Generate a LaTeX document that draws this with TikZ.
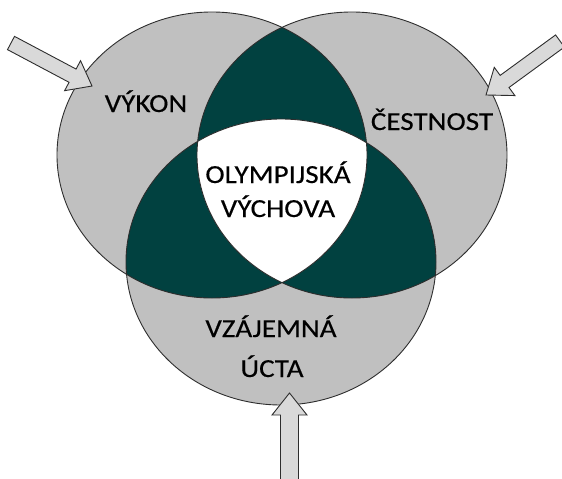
\documentclass[tikz,border=0pt]{standalone}
\usepackage{fontspec}
\newfontfamily\lblfont[FakeStretch=1.12,FakeBold=0.35]{Carlito}
\usetikzlibrary{calc}
\definecolor{ringgray}{RGB}{192,192,192}
\definecolor{darkteal}{RGB}{1,65,64}
\definecolor{arrowfill}{RGB}{217,217,217}
\definecolor{edgegray}{RGB}{45,45,45}
\newcommand\blockarr[6]{% name, tail, tip, shaft half width, head half width, head length
  \coordinate (#1hb) at ($(#3)!#6!(#2)$);
  \draw[blockarrowstyle] (#3) -- ($(#1hb)!#5!90:(#3)$) -- ($(#1hb)!#4!90:(#3)$)
    -- ($(#2)!#4!90:(#3)$) -- ($(#2)!#4!-90:(#3)$) -- ($(#1hb)!#4!-90:(#3)$)
    -- ($(#1hb)!#5!-90:(#3)$) -- cycle;}
\begin{document}
\begin{tikzpicture}[x=1pt,y=-1pt,
  lbl/.style={font=\lblfont\fontsize{26}{30}\selectfont, anchor=base, inner sep=0pt, text=black},
  ring/.style={draw=edgegray, line width=0.9pt},
  ell/.style={x radius=155pt, y radius=143pt},
  blockarrowstyle/.style={draw=edgegray, fill=arrowfill, line width=0.9pt, line join=miter}]
\useasboundingbox (0,0) rectangle (562,479);
\clip (0,0) rectangle (562,479);
\coordinate (cA) at (212,155);
\coordinate (cB) at (352,155);
\coordinate (cC) at (281,262);
% base fills
\fill[ringgray] (cA) ellipse [ell];
\fill[ringgray] (cB) ellipse [ell];
\fill[ringgray] (cC) ellipse [ell];
% pairwise overlaps
\begin{scope}
  \clip (cA) ellipse [ell];
  \fill[darkteal] (cB) ellipse [ell];
  \fill[darkteal] (cC) ellipse [ell];
\end{scope}
\begin{scope}
  \clip (cB) ellipse [ell];
  \fill[darkteal] (cC) ellipse [ell];
\end{scope}
% triple overlap
\begin{scope}
  \clip (cA) ellipse [ell];
  \clip (cB) ellipse [ell];
  \fill[white] (cC) ellipse [ell];
\end{scope}
% outlines
\draw[ring] (cA) ellipse [ell];
\draw[ring] (cB) ellipse [ell];
\draw[ring] (cC) ellipse [ell];
% labels
\node[lbl] (vykon) at (146,112) {VÝKON};
\node[lbl] (cestnost) at (432,130) {ČESTNOST};
\node[lbl] (olymp) at (278,183) {OLYMPIJSKÁ};
\node[lbl] (vychova) at (278,217) {VÝCHOVA};
\node[lbl] (vzajemna) at (271,337) {VZÁJEMNÁ};
\node[lbl] (ucta) at (272,377) {ÚCTA};
% arrows
\coordinate (laTail) at (11,43);
\coordinate (laTip) at (92,86);
\coordinate (raTail) at (560,41);
\coordinate (raTip) at (486,95);
\coordinate (baTail) at (289.5,486);
\coordinate (baTip) at (289.5,393);
\blockarr{la}{laTail}{laTip}{7.5pt}{17pt}{22pt}
\blockarr{ra}{raTail}{raTip}{7.5pt}{17.5pt}{23pt}
\blockarr{ba}{baTail}{baTip}{9pt}{17.5pt}{22pt}
\end{tikzpicture}
\end{document}
